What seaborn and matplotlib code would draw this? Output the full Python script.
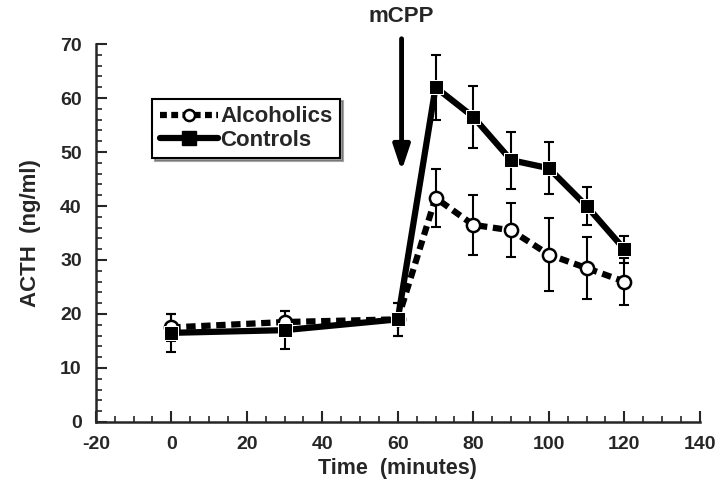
import seaborn as sns
import matplotlib.pyplot as plt
import pandas as pd
from matplotlib.ticker import MultipleLocator

# values
times = [0, 30, 60, 70, 80, 90, 100, 110, 120]
alcoholics = [17.5, 18.5, 19, 41.5, 36.5, 35.5, 31, 28.5, 26]
alcoholics_err = [2.5, 2, 3, 5.3, 5.5, 5, 6.7, 5.7, 4.3]
controls = [16.5, 17, 19, 62, 56.5, 48.5, 47, 40, 32]
controls_err = [3.5, 3.5, 3, 6, 5.7, 5.3, 4.8, 3.5, 2.5]

df = pd.DataFrame({
    "time": times * 2,
    "acth": alcoholics + controls,
    "group": ["Alcoholics"] * len(times) + ["Controls"] * len(times),
})

sns.set_style("ticks")
plt.rcParams["font.family"] = ["Liberation Sans", "DejaVu Sans"]
plt.rcParams["font.weight"] = "bold"
plt.rcParams["axes.unicode_minus"] = False

fig = plt.figure(figsize=(7.2, 4.9), dpi=100)
ax = fig.add_axes([0.133, 0.139, 0.839, 0.771])

# error bars first so lines sit on top
ax.errorbar(times, controls, yerr=controls_err, fmt="none", ecolor="black",
            elinewidth=1.5, capsize=3.5, capthick=1.5, zorder=1)
ax.errorbar(times, alcoholics, yerr=alcoholics_err, fmt="none", ecolor="black",
            elinewidth=1.5, capsize=3.5, capthick=1.5, zorder=1)

sns.lineplot(data=df, x="time", y="acth", hue="group", style="group",
             palette={"Alcoholics": "black", "Controls": "black"},
             dashes={"Alcoholics": (1.5, 0.9), "Controls": ""},
             markers={"Alcoholics": "o", "Controls": "s"},
             linewidth=4.5, markersize=9.5, ax=ax, legend=False, zorder=3)

# open circles for the alcoholics
for line in ax.lines:
    if line.get_marker() == "o":
        line.set_markerfacecolor("white")
        line.set_markeredgecolor("black")
        line.set_markeredgewidth(1.8)

ax.set_xlim(-20, 140)
ax.set_ylim(0, 70)
ax.xaxis.set_major_locator(MultipleLocator(20))
ax.xaxis.set_minor_locator(MultipleLocator(5))
ax.yaxis.set_major_locator(MultipleLocator(10))
ax.yaxis.set_minor_locator(MultipleLocator(2))
ax.tick_params(which="major", direction="in", length=8, width=1.5, labelsize=14, pad=10)
ax.tick_params(which="minor", direction="in", length=4, width=1.2)
for lab in ax.get_xticklabels() + ax.get_yticklabels():
    lab.set_fontweight("bold")
for side in ["left", "bottom"]:
    ax.spines[side].set_linewidth(1.8)
sns.despine(ax=ax)

ax.set_xlabel("Time  (minutes)", fontsize=15.5, fontweight="bold", labelpad=4)
ax.set_ylabel("ACTH  (ng/ml)", fontsize=16, fontweight="bold", labelpad=14)

# mCPP injection arrow
ax.annotate("", xy=(61, 46), xytext=(61, 71.5), xycoords="data",
            arrowprops=dict(arrowstyle="-|>,head_width=0.5,head_length=1.5",
                            color="black", lw=3.5),
            annotation_clip=False)
ax.text(61, 75.2, "mCPP", ha="center", va="center", fontsize=16,
        fontweight="bold", clip_on=False)

handles = [
    plt.Line2D([], [], color="black", lw=4.5, ls=(0, (1.1, 0.7)), marker="o",
               markersize=8, markerfacecolor="white", markeredgewidth=1.8),
    plt.Line2D([], [], color="black", lw=4.5, marker="s", markersize=9.5),
]
leg = ax.legend(handles, ["Alcoholics", "Controls"], loc="upper left",
                bbox_to_anchor=(0.075, 0.885), frameon=True, fancybox=False,
                shadow=True, edgecolor="black", framealpha=1,
                prop={"size": 16, "weight": "bold"}, handlelength=2.6,
                handletextpad=0.1, borderpad=0.35, labelspacing=0.1)
leg.get_frame().set_linewidth(1.5)

fig.savefig("out.png", dpi=100)
